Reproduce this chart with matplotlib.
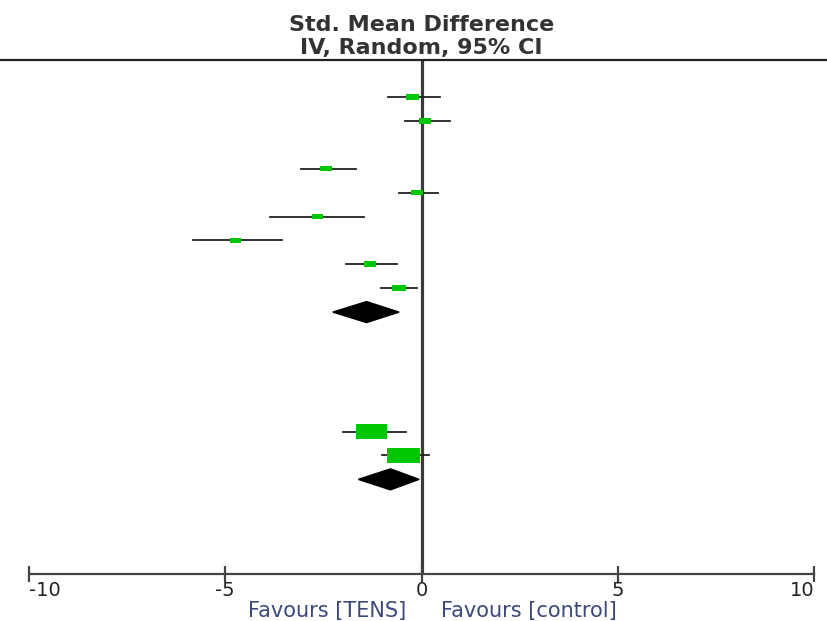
import matplotlib.pyplot as plt
from matplotlib.patches import Rectangle, Polygon
from matplotlib.lines import Line2D

# study rows (row index from top), SMD and 95% CI
rows = [0, 1, 3, 4, 5, 6, 7, 8, 14, 15]
smd = [-0.23, 0.10, -2.43, -0.12, -2.65, -4.75, -1.31, -0.57, -1.28, -0.45]
ci_lo = [-0.86, -0.42, -3.07, -0.57, -3.86, -5.83, -1.92, -1.02, -2.00, -1.00]
ci_hi = [0.46, 0.72, -1.67, 0.42, -1.46, -3.56, -0.62, -0.11, -0.39, 0.19]
weights = [12.6, 12.7, 12.4, 12.9, 11.2, 10.9, 12.8, 14.5, 47.6, 52.4]

# pooled estimates
pool_rows = [9, 16]
pool_smd = [-1.40, -0.79]
pool_lo = [-2.26, -1.61]
pool_hi = [-0.57, -0.06]

ticks = [-10, -5, 0, 5, 10]
tick_labels = ['-10', '-5', '0', '5', '10']

fig = plt.figure(figsize=(8.27, 6.21), dpi=100)
ax = fig.add_axes([29 / 827, 47 / 621, 785 / 827, 514 / 621])
ax.set_xlim(-10, 10)
ax.set_ylim(19.96, -1.55)

px_x = 20 / 785   # data units per pixel, x
px_y = 21.51 / 514  # rows per pixel, y

ax.axvline(0, color='#3a3a3a', lw=2.3, zorder=1)

for r, m, lo, hi, w in zip(rows, smd, ci_lo, ci_hi, weights):
    ax.plot([lo, hi], [r, r], color='#222222', lw=1.3, zorder=2)
    bw = 2.05 * w ** 0.7 * px_x
    bh = 0.95 * w ** 0.7 * px_y
    ax.add_patch(Rectangle((m - bw / 2, r - bh / 2), bw, bh,
                           facecolor='#00c800', edgecolor='none', zorder=3))

for r, m, lo, hi in zip(pool_rows, pool_smd, pool_lo, pool_hi):
    h = 10.5 * px_y
    ax.add_patch(Polygon([(lo, r), (m, r - h), (hi, r), (m, r + h)],
                         closed=True, facecolor='black', edgecolor='black',
                         zorder=4))

for s in ['top', 'left', 'right']:
    ax.spines[s].set_visible(False)
ax.spines['bottom'].set_color('#444444')
ax.spines['bottom'].set_linewidth(1.6)
ax.set_yticks([])
ax.set_xticks(ticks)
ax.set_xticklabels(tick_labels, fontsize=14, family='DejaVu Sans', color='#222222')
ax.tick_params(axis='x', direction='inout', length=12, width=1.6,
               color='#444444', pad=-1)
labs = ax.get_xticklabels()
labs[0].set_ha('left')
labs[-1].set_ha('right')

fig.add_artist(Line2D([0, 1], [561 / 621, 561 / 621], transform=fig.transFigure,
                      color='#222222', lw=1.6))

fig.text(421.5 / 827, 1 - 25 / 621, 'Std. Mean Difference', ha='center', va='center',
         fontsize=16, fontweight='bold', family='DejaVu Sans', color='#333333')
fig.text(421.5 / 827, 1 - 48 / 621, 'IV, Random, 95% CI', ha='center', va='center',
         fontsize=16, fontweight='bold', family='DejaVu Sans', color='#333333')

fig.text(406 / 827, 1 - 611 / 621, 'Favours [TENS]', ha='right', va='center',
         fontsize=15, family='DejaVu Sans', color='#3b4a7a')
fig.text(441 / 827, 1 - 611 / 621, 'Favours [control]', ha='left', va='center',
         fontsize=15, family='DejaVu Sans', color='#3b4a7a')

fig.savefig('out.png', dpi=100)
